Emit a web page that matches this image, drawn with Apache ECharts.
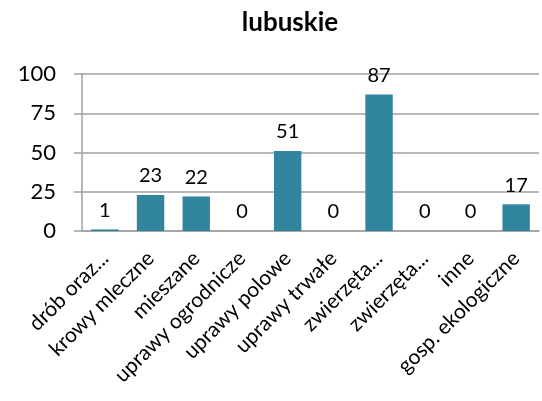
<!DOCTYPE html>
<html>
<head>
<meta charset="utf-8">
<script src="https://cdn.jsdelivr.net/npm/echarts@6/dist/echarts.min.js"></script>
<style>
  html, body { margin: 0; padding: 0; background: #fff; }
  #chart { width: 542px; height: 401px; }
</style>
</head>
<body>
<div id="chart"></div>
<script>
// values
const categories = [
  "drób oraz...", "krowy mleczne", "mieszane", "uprawy ogrodnicze",
  "uprawy polowe", "uprawy trwałe", "zwierzęta...", "zwierzęta...",
  "inne", "gosp. ekologiczne"
];
const values = [1, 23, 22, 0, 51, 0, 87, 0, 0, 17];
const yTicks = { min: 0, max: 100, step: 25 };

const font = "Lato, 'Open Sans', sans-serif";
const gray = "#a0a0a0";

const chart = echarts.init(document.getElementById("chart"));
chart.setOption({
  animation: false,
  title: {
    text: "lubuskie",
    left: 285,
    top: 5,
    textAlign: "center",
    textStyle: { fontFamily: font, fontSize: 26, fontWeight: "bold", color: "#000" }
  },
  grid: { left: 82, right: 3, top: 74, bottom: 170 },
  xAxis: {
    type: "category",
    data: categories,
    axisLine: { lineStyle: { color: gray, width: 1.5 } },
    axisTick: { length: 6, lineStyle: { color: gray, width: 1.5 } },
    axisLabel: {
      rotate: 45,
      margin: 24,
      interval: 0,
      fontFamily: font,
      fontSize: 21,
      color: "#000"
    }
  },
  yAxis: {
    type: "value",
    min: yTicks.min,
    max: yTicks.max,
    interval: yTicks.step,
    axisLine: { show: true, lineStyle: { color: gray, width: 1.5 } },
    axisTick: { show: true, length: 8, lineStyle: { color: gray, width: 1.5 } },
    splitLine: { lineStyle: { color: gray, width: 1.5 } },
    axisLabel: { margin: 26, fontFamily: font, fontSize: 22, color: "#000" }
  },
  series: [{
    type: "bar",
    data: values,
    barCategoryGap: "40%",
    itemStyle: { color: "#31859c" },
    label: {
      show: true,
      position: "top",
      distance: 9,
      fontFamily: font,
      fontSize: 20,
      color: "#000"
    }
  }]
});
</script>
</body>
</html>
